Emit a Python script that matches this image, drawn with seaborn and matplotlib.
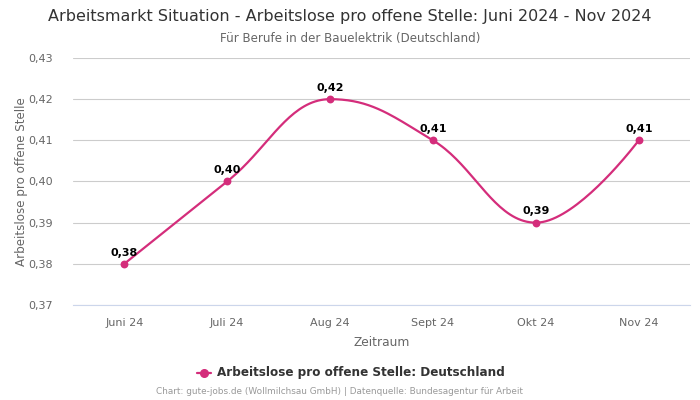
import numpy as np
import pandas as pd
import matplotlib
matplotlib.use("Agg")
import matplotlib.pyplot as plt
import seaborn as sns

months = ["Juni 24", "Juli 24", "Aug 24", "Sept 24", "Okt 24", "Nov 24"]
values = [0.38, 0.40, 0.42, 0.41, 0.39, 0.41]
series_name = "Arbeitslose pro offene Stelle: Deutschland"
y_ticks = [0.37, 0.38, 0.39, 0.40, 0.41, 0.42, 0.43]

color = "#d42d7b"


def fmt(v):
    return f"{v:.2f}".replace(".", ",")


def spline_path(xs, ys, smoothing=1.5, n=40):
    # highcharts-like spline through the data points
    xs = np.asarray(xs, float)
    ys = np.asarray(ys, float)
    k = len(xs)
    left = [(xs[i], ys[i]) for i in range(k)]
    right = [(xs[i], ys[i]) for i in range(k)]
    d = smoothing + 1
    for i in range(1, k - 1):
        px, py = xs[i], ys[i]
        lx, ly = xs[i - 1], ys[i - 1]
        nx, ny = xs[i + 1], ys[i + 1]
        lcx = (smoothing * px + lx) / d
        lcy = (smoothing * py + ly) / d
        rcx = (smoothing * px + nx) / d
        rcy = (smoothing * py + ny) / d
        corr = (rcy - lcy) * (rcx - px) / (rcx - lcx) + py - rcy
        lcy += corr
        rcy += corr
        if lcy > ly and lcy > py:
            lcy = max(ly, py)
            rcy = 2 * py - lcy
        elif lcy < ly and lcy < py:
            lcy = min(ly, py)
            rcy = 2 * py - lcy
        if rcy > ny and rcy > py:
            rcy = max(ny, py)
            lcy = 2 * py - rcy
        elif rcy < ny and rcy < py:
            rcy = min(ny, py)
            lcy = 2 * py - rcy
        left[i] = (lcx, lcy)
        right[i] = (rcx, rcy)
    out_x, out_y = [], []
    t = np.linspace(0, 1, n)
    for i in range(k - 1):
        p0 = np.array([xs[i], ys[i]])
        p1 = np.array(right[i])
        p2 = np.array(left[i + 1])
        p3 = np.array([xs[i + 1], ys[i + 1]])
        seg = ((1 - t) ** 3)[:, None] * p0 + (3 * (1 - t) ** 2 * t)[:, None] * p1 \
            + (3 * (1 - t) * t ** 2)[:, None] * p2 + (t ** 3)[:, None] * p3
        out_x.extend(seg[:, 0])
        out_y.extend(seg[:, 1])
    return out_x, out_y


df = pd.DataFrame({"month": months, "value": values, "pos": range(len(months))})

sns.set_style("white")
plt.rcParams["font.family"] = ["DejaVu Sans"]

fig = plt.figure(figsize=(7, 4), dpi=100)
ax = fig.add_axes([0.104, 0.2375, 0.882, 0.6175])

cx, cy = spline_path(df["pos"], df["value"])
ax.plot(cx, cy, color=color, lw=1.6, zorder=3)
sns.scatterplot(data=df, x="pos", y="value", color=color, s=32, edgecolor=color,
                linewidth=0, zorder=4, ax=ax, legend=False)

for p, v in zip(df["pos"], df["value"]):
    ax.annotate(fmt(v), (p, v), xytext=(0, 4.5), textcoords="offset points",
                ha="center", va="bottom", fontsize=8, fontweight="bold", color="black")

ax.set_xlim(-0.5, len(months) - 0.5)
ax.set_ylim(y_ticks[0], y_ticks[-1])
ax.set_yticks(y_ticks)
ax.set_yticklabels([fmt(v) for v in y_ticks])
ax.set_xticks(df["pos"])
ax.set_xticklabels(months)
ax.tick_params(axis="both", length=0, labelsize=8, colors="#666666")
ax.tick_params(axis="x", pad=9)
ax.tick_params(axis="y", pad=14)
ax.grid(axis="y", color="#cccccc", lw=0.8)
for s in ["top", "right", "left"]:
    ax.spines[s].set_visible(False)
ax.spines["bottom"].set_color("#ccd6eb")
ax.spines["bottom"].set_linewidth(0.8)
ax.set_axisbelow(True)

ax.set_xlabel("Zeitraum", fontsize=8.8, color="#666666", labelpad=6)
ax.set_ylabel("Arbeitslose pro offene Stelle", fontsize=8.6, color="#666666", labelpad=0.5)

fig.text(0.5, 0.958, "Arbeitsmarkt Situation - Arbeitslose pro offene Stelle: Juni 2024 - Nov 2024",
         ha="center", va="center", fontsize=11.5, color="#333333")
fig.text(0.5, 0.903, "Für Berufe in der Bauelektrik (Deutschland)",
         ha="center", va="center", fontsize=8.6, color="#666666")

# legend
fig.lines.append(plt.Line2D([0.282, 0.302], [0.068, 0.068], transform=fig.transFigure,
                            color=color, lw=1.6))
fig.lines.append(plt.Line2D([0.292], [0.068], transform=fig.transFigure, color=color,
                            marker="o", markersize=5.5, lw=0))
fig.text(0.31, 0.068, series_name, ha="left", va="center", fontsize=8.65,
         fontweight="bold", color="#333333")

fig.text(0.485, 0.02, "Chart: gute-jobs.de (Wollmilchsau GmbH) | Datenquelle: Bundesagentur für Arbeit",
         ha="center", va="center", fontsize=6.4, color="#999999")

fig.savefig("out.png", dpi=100)
